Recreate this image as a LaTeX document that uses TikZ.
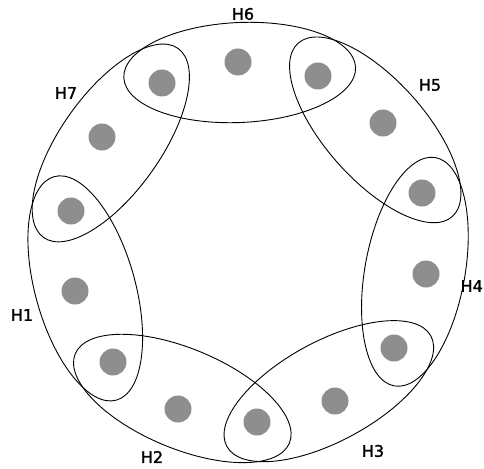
\documentclass[tikz,border=0pt]{standalone}
\usepackage{fontspec}
\setmainfont{DejaVu Sans}
\newfontfamily\lblfont{DejaVu Sans}[FakeBold=1.5]
\usetikzlibrary{shapes.geometric,calc}
\definecolor{dotgray}{HTML}{8E8E8E}
\begin{document}
\begin{tikzpicture}[x=1pt,y=-1pt,
  dot/.style={circle,fill=dotgray,draw=none,minimum size=27pt,inner sep=0pt},
  hedge/.style={ellipse,draw=black,line width=0.9pt,minimum width=232pt,minimum height=100pt,inner sep=0pt,sloped,allow upside down},
  lbl/.style={font=\lblfont\fontsize{16}{18}\selectfont,inner sep=0pt}]
\useasboundingbox (0,0) rectangle (484,468);
% dots, clockwise from upper left
\node[dot] (d1)  at (162,83)  {};
\node[dot] (d2)  at (238,62)  {};
\node[dot] (d3)  at (318,76)  {};
\node[dot] (d4)  at (383,123) {};
\node[dot] (d5)  at (422,193) {};
\node[dot] (d6)  at (426,274) {};
\node[dot] (d7)  at (394,348) {};
\node[dot] (d8)  at (335,401) {};
\node[dot] (d9)  at (257,422) {};
\node[dot] (d10) at (178,409) {};
\node[dot] (d11) at (113,362) {};
\node[dot] (d12) at (75,291)  {};
\node[dot] (d13) at (71,211)  {};
\node[dot] (d14) at (102,137) {};
% hyperedges
\foreach \a/\b/\n in {d1/d3/E6, d3/d5/E5, d5/d7/E4, d7/d9/E3, d9/d11/E2, d11/d13/E1, d13/d1/E7}{
  \path ($(\a)!7pt!90:(\b)$) -- node[hedge] (\n) {} ($(\b)!7pt!-90:(\a)$);
}
% labels
\node[lbl] (H6) at (243,14) {H6};
\node[lbl] (H5) at (430,85) {H5};
\node[lbl] (H7) at (66,93) {H7};
\node[lbl,anchor=east] (H4) at (483,286) {H4};
\node[lbl] (H1) at (22,315) {H1};
\node[lbl] (H2) at (152,457) {H2};
\node[lbl] (H3) at (373,451) {H3};
\end{tikzpicture}
\end{document}
